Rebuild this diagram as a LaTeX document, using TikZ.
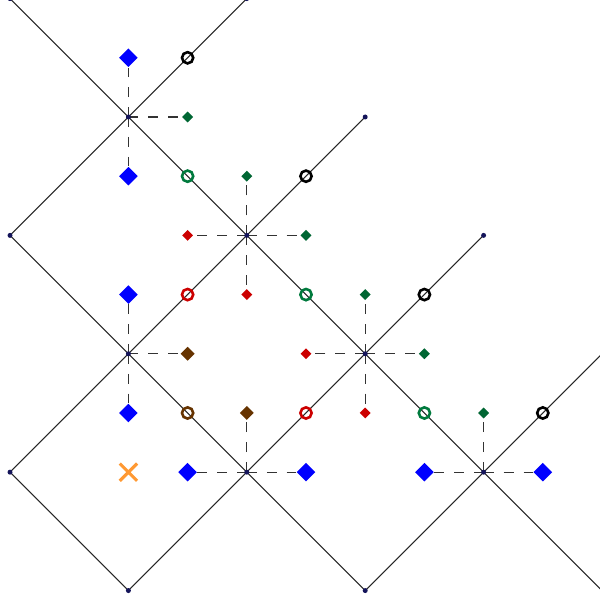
\documentclass[tikz,border=0pt]{standalone}
\usepackage{xcolor}
\usetikzlibrary{shapes.geometric,shapes.misc}

\definecolor{tblue}{RGB}{0,0,255}
\definecolor{tgreen}{RGB}{0,102,51}
\definecolor{cgreen}{RGB}{0,122,61}
\definecolor{tred}{RGB}{204,0,0}
\definecolor{tbrown}{RGB}{102,51,0}
\definecolor{torange}{RGB}{255,153,51}
\definecolor{tdot}{RGB}{20,20,90}

\begin{document}
\begin{tikzpicture}[y=-1cm,
  wline/.style={line width=0.5pt,black!85},
  dline/.style={line width=0.5pt,black!80,dash pattern=on 4.8pt off 4.8pt},
  edot/.style={circle,fill=tdot,inner sep=0pt,minimum size=2.4pt},
  bigdia/.style={diamond,aspect=1,fill=tblue,inner sep=0pt,minimum size=0.32cm},
  middia/.style={diamond,aspect=1,fill=#1,inner sep=0pt,minimum size=0.24cm},
  smldia/.style={diamond,aspect=1,fill=#1,inner sep=0pt,minimum size=0.19cm},
  ring/.style={circle,draw=#1,line width=1.25pt,inner sep=0pt,minimum size=0.19cm},
  xmark/.style={cross out,draw=torange,line width=1.5pt,inner sep=0pt,minimum size=0.24cm}]
\useasboundingbox (-0.169,0.024) rectangle (9.966,10.21);
\clip (-0.169,0.024) rectangle (9.966,10.21);

% end points and crossings
\coordinate (e1) at (0,0);
\coordinate (e2) at (4,0);
\coordinate (e3) at (6,2);
\coordinate (e4) at (0,4);
\coordinate (e5) at (8,4);
\coordinate (e6) at (0,8);
\coordinate (e7) at (2,10);
\coordinate (e8) at (6,10);
\coordinate (e9) at (10,10);
\coordinate (e10) at (10,6);
\coordinate (q1) at (2,2);
\coordinate (q2) at (4,4);
\coordinate (q3) at (2,6);
\coordinate (q4) at (6,6);
\coordinate (q5) at (4,8);
\coordinate (q6) at (8,8);

% light-like lines
\draw[wline] (e1) -- (e9);
\draw[wline] (e4) -- (e8);
\draw[wline] (e6) -- (e7);
\draw[wline] (e4) -- (e2);
\draw[wline] (e6) -- (e3);
\draw[wline] (e7) -- (e5);
\draw[wline] (e8) -- (e10);

% markers
\node[bigdia] (b1) at (2,1) {};
\node[bigdia] (b2) at (2,3) {};
\node[bigdia] (b3) at (2,5) {};
\node[bigdia] (b4) at (2,7) {};
\node[bigdia] (b5) at (3,8) {};
\node[bigdia] (b6) at (5,8) {};
\node[bigdia] (b7) at (7,8) {};
\node[bigdia] (b8) at (9,8) {};
\node[smldia=tgreen] (g1) at (3,2) {};
\node[smldia=tgreen] (g2) at (4,3) {};
\node[smldia=tgreen] (g3) at (5,4) {};
\node[smldia=tgreen] (g4) at (6,5) {};
\node[smldia=tgreen] (g5) at (7,6) {};
\node[smldia=tgreen] (g6) at (8,7) {};
\node[smldia=tred] (r1) at (3,4) {};
\node[smldia=tred] (r2) at (4,5) {};
\node[smldia=tred] (r3) at (5,6) {};
\node[smldia=tred] (r4) at (6,7) {};
\node[middia=tbrown] (m1) at (3,6) {};
\node[middia=tbrown] (m2) at (4,7) {};
\node[ring=black] (k1) at (3,1) {};
\node[ring=black] (k2) at (5,3) {};
\node[ring=black] (k3) at (7,5) {};
\node[ring=black] (k4) at (9,7) {};
\node[ring=cgreen] (c1) at (3,3) {};
\node[ring=cgreen] (c2) at (5,5) {};
\node[ring=cgreen] (c3) at (7,7) {};
\node[ring=tred] (c4) at (3,5) {};
\node[ring=tred] (c5) at (5,7) {};
\node[ring=tbrown] (c6) at (3,7) {};
\node[xmark] (x1) at (2,8) {};

% dashed links
\draw[dline] (q1) -- (b1);
\draw[dline] (q1) -- (b2);
\draw[dline] (q1) -- (g1);
\draw[dline] (q2) -- (g2);
\draw[dline] (q2) -- (r1);
\draw[dline] (q2) -- (g3);
\draw[dline] (q2) -- (r2);
\draw[dline] (q3) -- (b3);
\draw[dline] (q3) -- (b4);
\draw[dline] (q3) -- (m1);
\draw[dline] (q4) -- (g4);
\draw[dline] (q4) -- (r3);
\draw[dline] (q4) -- (g5);
\draw[dline] (q4) -- (r4);
\draw[dline] (q5) -- (m2);
\draw[dline] (q5) -- (b5);
\draw[dline] (q5) -- (b6);
\draw[dline] (q6) -- (g6);
\draw[dline] (q6) -- (b7);
\draw[dline] (q6) -- (b8);

% dots
\foreach \p in {e1,e2,e3,e4,e5,e6,e7,e8,q1,q2,q3,q4,q5,q6}
  \node[edot] at (\p) {};
\end{tikzpicture}
\end{document}
